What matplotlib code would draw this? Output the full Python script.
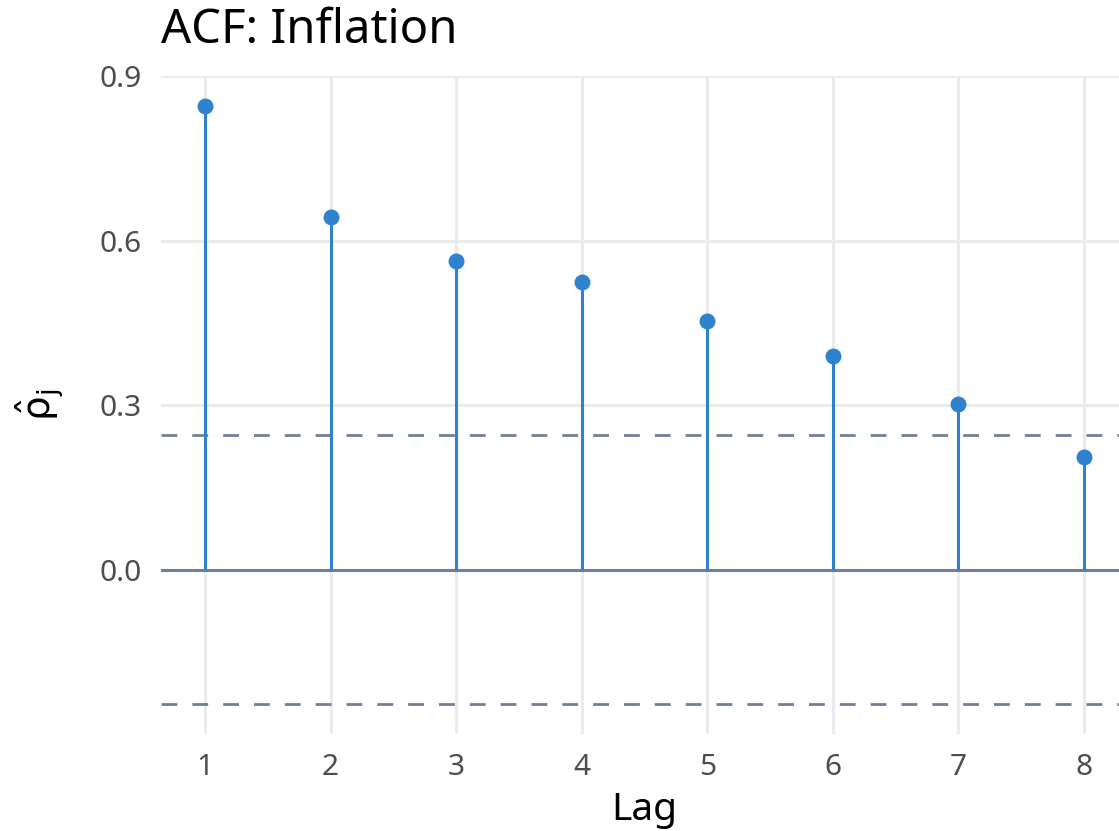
import matplotlib
matplotlib.use('Agg')
import matplotlib.pyplot as plt
import numpy as np

# autocorrelations
lags = [1, 2, 3, 4, 5, 6, 7, 8]
acf_values = [0.845, 0.643, 0.563, 0.525, 0.454, 0.390, 0.302, 0.206]
conf_band = 0.245
title = 'ACF: Inflation'
x_label = 'Lag'
y_label = r'$\hat{\mathrm{\rho}}_{\mathrm{j}}$'
y_ticks = [0.0, 0.3, 0.6, 0.9]

stem_color = '#3182ce'
ref_color = '#718096'
grid_color = '#ebebeb'
tick_color = '#4d4d4d'

plt.rcParams['font.family'] = ['Noto Sans', 'DejaVu Sans']
plt.rcParams['mathtext.fontset'] = 'dejavusans'

fig = plt.figure(figsize=(11.19, 8.31), dpi=100)
ax = fig.add_axes([0.1439, 0.117, 0.864, 0.7915])

# background grid (ggplot minimal look)
for t in y_ticks:
    ax.axhline(t, color=grid_color, lw=2.2, zorder=0)
for l in lags:
    ax.axvline(l, color=grid_color, lw=2.2, zorder=0)

ax.axhline(0, color=ref_color, lw=2.2, zorder=1)
ax.axhline(conf_band, color=ref_color, lw=2.0, dashes=(5.7, 5.4), zorder=1)
ax.axhline(-conf_band, color=ref_color, lw=2.0, dashes=(5.7, 5.4), zorder=1)

ax.vlines(lags, 0, acf_values, color=stem_color, lw=2.2, zorder=2)
ax.plot(lags, acf_values, 'o', color=stem_color, ms=11.5, mec='none', zorder=3)

ax.set_xlim(0.65, 8.35)
ax.set_ylim(-0.2995, 0.8995)
ax.set_xticks(lags)
ax.set_xticklabels([str(l) for l in lags])
ax.set_yticks(y_ticks)
ax.set_yticklabels(['%.1f' % t for t in y_ticks])
ax.tick_params(length=0, labelsize=21.5, labelcolor=tick_color, pad=14)
for s in ax.spines.values():
    s.set_visible(False)
ax.grid(False)

ax.set_xlabel(x_label, fontsize=28, labelpad=6)
ax.set_ylabel(y_label, fontsize=28, labelpad=24)
fig.text(0.1439, 0.963, title, fontsize=34, ha='left', va='center')

fig.savefig('out.png', dpi=100)
